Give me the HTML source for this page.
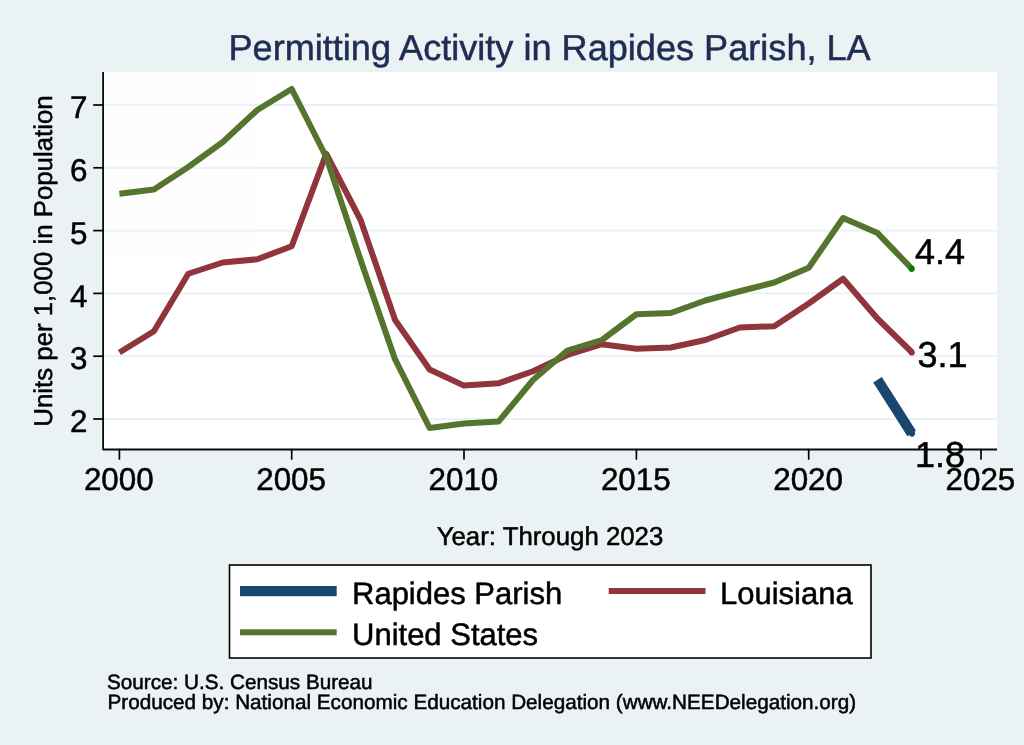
<!DOCTYPE html>
<html><head><meta charset="utf-8"><title>Permitting Activity in Rapides Parish, LA</title>
<style>
html,body{margin:0;padding:0;background:#eaf2f3;}
svg{display:block;will-change:transform;opacity:0.999}
text{font-family:"Liberation Sans",Arial,Helvetica,sans-serif;fill:#000;stroke:#000;stroke-width:0.5px;text-rendering:geometricPrecision}
</style></head><body>
<svg width="1024" height="745" viewBox="0 0 1024 745">
<rect width="1024" height="745" fill="#eaf2f3"/>
<rect x="103" y="72" width="894" height="378" fill="#fff"/>
<rect x="104" y="104.0" width="893" height="2" fill="#eaf2f3"/><rect x="104" y="166.8" width="893" height="2" fill="#eaf2f3"/><rect x="104" y="229.6" width="893" height="2" fill="#eaf2f3"/><rect x="104" y="292.4" width="893" height="2" fill="#eaf2f3"/><rect x="104" y="355.2" width="893" height="2" fill="#eaf2f3"/><rect x="104" y="418.0" width="893" height="2" fill="#eaf2f3"/>
<text id="title" x="549.6" y="59.6" text-anchor="middle" font-size="36.12" style="fill:#1e2d53;stroke:#1e2d53">Permitting Activity in Rapides Parish, LA</text>
<polyline points="119.4,352.50 153.9,331.25 188.3,273.75 222.8,262.50 257.3,259.25 291.7,246.25 326.2,153.70 360.6,220.00 395.1,320.00 429.6,369.50 464.0,385.60 498.5,383.30 533.0,371.25 567.4,355.00 601.9,344.25 636.4,348.75 670.8,347.50 705.3,340.00 739.8,327.50 774.2,326.25 808.7,303.50 843.1,278.75 877.6,318.75 912.1,352.50" fill="none" stroke="#90353b" stroke-width="6" stroke-linejoin="round"/>
<polyline points="119.4,193.75 153.9,189.50 188.3,167.00 222.8,142.00 257.3,110.00 291.7,89.00 326.2,157.00 360.6,260.00 395.1,359.40 429.6,428.00 464.0,423.60 498.5,421.60 533.0,380.00 567.4,350.50 601.9,340.00 636.4,314.25 670.8,313.00 705.3,300.50 739.8,291.25 774.2,282.50 808.7,267.75 843.1,218.00 877.6,233.10 912.1,269.00" fill="none" stroke="#55752f" stroke-width="6" stroke-linejoin="round"/>
<line x1="877.5" y1="379.75" x2="911.7" y2="433.4" stroke="#1a476f" stroke-width="10.2"/>
<circle cx="911.7" cy="268.8" r="3.1" fill="#008000"/>
<circle cx="911.7" cy="352.5" r="3.1" fill="#90353b"/>
<circle cx="912" cy="433.6" r="3.1" fill="#1a476f"/>
<path d="M103.1,72 L103.1,449.5 L997,449.5" fill="none" stroke="#0a0a0a" stroke-width="1.8" stroke-linejoin="round"/>
<line x1="93.2" x2="103" y1="105.0" y2="105.0" stroke="#000" stroke-width="1.7"/><line x1="93.2" x2="103" y1="167.8" y2="167.8" stroke="#000" stroke-width="1.7"/><line x1="93.2" x2="103" y1="230.6" y2="230.6" stroke="#000" stroke-width="1.7"/><line x1="93.2" x2="103" y1="293.4" y2="293.4" stroke="#000" stroke-width="1.7"/><line x1="93.2" x2="103" y1="356.2" y2="356.2" stroke="#000" stroke-width="1.7"/><line x1="93.2" x2="103" y1="419.0" y2="419.0" stroke="#000" stroke-width="1.7"/><line x1="119.4" x2="119.4" y1="449.5" y2="459" stroke="#000" stroke-width="1.7" stroke-linecap="round"/><line x1="291.7" x2="291.7" y1="449.5" y2="459" stroke="#000" stroke-width="1.7" stroke-linecap="round"/><line x1="464.0" x2="464.0" y1="449.5" y2="459" stroke="#000" stroke-width="1.7" stroke-linecap="round"/><line x1="636.4" x2="636.4" y1="449.5" y2="459" stroke="#000" stroke-width="1.7" stroke-linecap="round"/><line x1="808.7" x2="808.7" y1="449.5" y2="459" stroke="#000" stroke-width="1.7" stroke-linecap="round"/><line x1="981.0" x2="981.0" y1="449.5" y2="459" stroke="#000" stroke-width="1.7" stroke-linecap="round"/>
<text x="87.5" y="118.1" text-anchor="end" font-size="31.4">7</text><text x="87.5" y="180.9" text-anchor="end" font-size="31.4">6</text><text x="87.5" y="243.7" text-anchor="end" font-size="31.4">5</text><text x="87.5" y="306.5" text-anchor="end" font-size="31.4">4</text><text x="87.5" y="369.3" text-anchor="end" font-size="31.4">3</text><text x="87.5" y="432.1" text-anchor="end" font-size="31.4">2</text><text x="118.8" y="490.2" text-anchor="middle" font-size="31.4">2000</text><text x="291.1" y="490.2" text-anchor="middle" font-size="31.4">2005</text><text x="463.4" y="490.2" text-anchor="middle" font-size="31.4">2010</text><text x="635.8" y="490.2" text-anchor="middle" font-size="31.4">2015</text><text x="808.1" y="490.2" text-anchor="middle" font-size="31.4">2020</text><text x="980.4" y="490.2" text-anchor="middle" font-size="31.4">2025</text>
<text id="l44" x="915" y="263.8" font-size="36">4.4</text>
<text id="l31" x="917.5" y="367" font-size="36">3.1</text>
<text id="l18" x="915" y="467" font-size="36">1.8</text>
<text id="ytitle" transform="translate(51.6,261) rotate(-90)" text-anchor="middle" font-size="25.8">Units per 1,000 in Population</text>
<text id="xtitle" x="550" y="544.5" text-anchor="middle" font-size="25.8">Year: Through 2023</text>
<rect x="229.5" y="565" width="641.5" height="93" fill="#fff" stroke="#000" stroke-width="1.6"/>
<rect x="240" y="586" width="96.7" height="10.2" fill="#1a476f"/>
<rect x="240" y="629.3" width="96.7" height="6" fill="#55752f"/>
<rect x="608.7" y="588" width="96.8" height="6" fill="#90353b"/>
<text id="lg1" x="352" y="604" font-size="31">Rapides Parish</text>
<text id="lg2" x="352" y="644.5" font-size="31">United States</text>
<text id="lg3" x="720" y="604" font-size="31">Louisiana</text>
<text id="n1" x="107" y="689" font-size="20.7">Source: U.S. Census Bureau</text>
<text id="n2" x="107.5" y="708.8" font-size="20.7">Produced by: National Economic Education Delegation (www.NEEDelegation.org)</text>
</svg>
</body></html>
